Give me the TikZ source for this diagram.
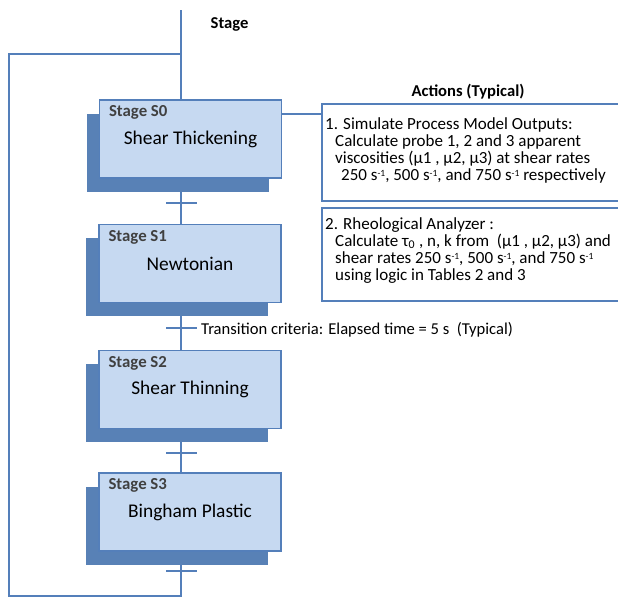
\documentclass[tikz,border=0pt]{standalone}
\usepackage{fontspec}
\setmainfont{Carlito}
\usetikzlibrary{shadows,backgrounds}

\definecolor{flowblue}{RGB}{84,127,186}
\definecolor{stagefill}{RGB}{198,217,241}
\definecolor{stageshade}{RGB}{88,129,182}
\definecolor{stagelabel}{RGB}{64,64,64}

% small raised exponent for the shear-rate units
\newcommand\supmark[1]{\raisebox{0.5ex}{\fontsize{9.5}{10}\selectfont#1}}

\tikzset{
  flow/.style={draw=flowblue, line width=1.5pt},
  stagebox/.style={draw=flowblue, line width=1.3pt, fill=stagefill,
    minimum width=182pt, minimum height=78pt, inner sep=0pt,
    font=\fontsize{19.4}{22}\selectfont,
    general shadow={shadow xshift=-13pt, shadow yshift=-13.5pt, fill=stageshade}},
  stagetag/.style={anchor=west, inner sep=0pt,
    font=\fontsize{16.8}{19}\selectfont\bfseries, text=stagelabel},
  actionbox/.style={draw=flowblue, line width=1.5pt, anchor=north west,
    minimum width=330pt, inner sep=0pt},
  actiontext/.style={anchor=north west, inner sep=0pt, align=left,
    font=\fontsize{17}{17.2}\selectfont},
  heading/.style={inner sep=0pt, font=\fontsize{16.6}{19}\selectfont\bfseries},
  plain/.style={inner sep=0pt, font=\fontsize{16.6}{19}\selectfont},
}

\begin{document}
\begin{tikzpicture}[x=1pt,y=-1pt]
\useasboundingbox (0,0) rectangle (618,597);
\clip (0,0) rectangle (618,597);

% column headings
\node[heading] (stagehead) at (229.5,24) {Stage};
\node[heading] (actionhead) at (468,92) {Actions (Typical)};

% stages
\node[stagebox] (s0) at (190.5,139) {Shear Thickening};
\node[stagebox] (s1) at (190,263.5) {Newtonian};
\node[stagebox] (s2) at (190,389.5) {Shear Thinning};
\node[stagebox] (s3) at (190,512) {Bingham Plastic};

\node[stagetag] (t0) at ([xshift=10pt,yshift=-13.5pt]s0.north west) {Stage S0};
\node[stagetag] (t1) at ([xshift=10pt,yshift=-13.5pt]s1.north west) {Stage S1};
\node[stagetag] (t2) at ([xshift=10pt,yshift=-13.5pt]s2.north west) {Stage S2};
\node[stagetag] (t3) at ([xshift=10pt,yshift=-13.5pt]s3.north west) {Stage S3};

% action boxes
\node[actionbox, minimum height=97pt] (a1) at (321,103) {};
\node[actionbox, minimum height=93pt] (a2) at (321,207) {};

\node[actiontext] (a1text) at (325,117) {%
1. Simulate Process Model Outputs:\\
\hspace*{10pt}Calculate probe 1, 2 and 3 apparent\\
\hspace*{10pt}viscosities (µ1 , µ2, µ3) at shear rates\\
\hspace*{16pt}250 s\supmark{-1}, 500 s\supmark{-1}, and 750 s\supmark{-1} respectively};

\node[actiontext] (a2text) at (325,217) {%
2. Rheological Analyzer :\\
\hspace*{10pt}Calculate τ\textsubscript{0} , n, k from \ (µ1 , µ2, µ3) and\\
\hspace*{10pt}shear rates 250 s\supmark{-1}, 500 s\supmark{-1}, and 750 s\supmark{-1}\\
\hspace*{10pt}using logic in Tables 2 and 3};

% flow line and loop-back
\coordinate (top) at (181,10);
\coordinate (join) at (181,54);
\coordinate (loopleft) at (9,54);
\coordinate (bottomleft) at (9,596);
\coordinate (bottomright) at (181,596);

\begin{pgfonlayer}{background}
\draw[flow] (top) -- (s0.north -| top);
\draw[flow] (s0.south -| top) -- (s1.north -| top);
\draw[flow] (s1.south -| top) -- (s2.north -| top);
\draw[flow] (s2.south -| top) -- (s3.north -| top);
\draw[flow] (s3.south -| top) -- (bottomright) -- (bottomleft) -- (loopleft) -- (join);
\end{pgfonlayer}

% transitions
\coordinate (x0) at (181,203);
\coordinate (x1) at (181,328);
\coordinate (x2) at (181,453);
\coordinate (x3) at (181,571);
\draw[flow] ([xshift=-15pt]x0) -- ([xshift=16pt]x0);
\draw[flow] ([xshift=-15pt]x1) -- ([xshift=16pt]x1);
\draw[flow] ([xshift=-15pt]x2) -- ([xshift=16pt]x2);
\draw[flow] ([xshift=-15pt]x3) -- ([xshift=16pt]x3);

\node[plain, anchor=west] (crit) at ([xshift=20pt,yshift=-1.5pt]x1) {Transition criteria: Elapsed time = 5 s \ (Typical)};

% stage to action link
\coordinate (link) at ([yshift=-14.5pt]s0.north east);
\draw[flow] (link) -- (link -| a1.west);
\end{tikzpicture}
\end{document}
